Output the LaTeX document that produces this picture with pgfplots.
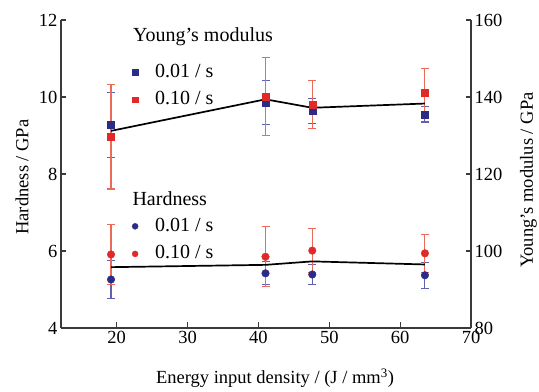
\documentclass[border=0pt]{standalone}
\usepackage{fontspec}
\setmainfont{Liberation Serif}
\usepackage{pgfplots}
\pgfplotsset{compat=1.18}

\definecolor{mblue}{HTML}{2B2C86}
\definecolor{mred}{HTML}{E02A2A}
\definecolor{eblue}{HTML}{6062B0}
\definecolor{ered}{HTML}{EC6A58}
\definecolor{axgray}{HTML}{3A3A3A}

\newcommand{\bigf}{\fontsize{20bp}{23bp}\selectfont}
\newcommand{\tickf}{\fontsize{18.5bp}{21bp}\selectfont}

\pgfplotsset{
  common/.style={
    scale only axis, width=410bp, height=308bp,
    xmin=12.14, xmax=70,
    tick align=inside, major tick length=5.5bp,
    axis line style={axgray, line width=1.2bp},
    tick style={axgray, line width=1.2bp},
    /pgf/number format/assume math mode=true,
    ticklabel style={font=\tickf},
    label style={font=\tickf},
    clip=false,
    legend cell align=left,
    legend image code/.code={\path[draw=none,fill=none] (0bp,0bp) rectangle (21bp,0.01bp); \draw[##1, only marks] plot coordinates {(3bp,0bp)};},
  },
  errb/.style={error bars/.cd, y dir=both, y explicit,
    error bar style={#1, line width=1.1bp},
    error mark options={#1, rotate=90, mark size=4bp, line width=1.1bp}},
  leg/.style={legend style={at={(rel axis cs:0.173,#1)}, anchor=north west,
    draw=none, fill=none, inner sep=0pt, row sep=9.6bp, font=\bigf,
    nodes={text height=14bp, text depth=4bp, inner ysep=0pt, inner xsep=2bp}}},
}

\pgfplotstableread{
x     y     e
19.2  5.26  0.49
41.0  5.42  0.30
47.6  5.39  0.26
63.5  5.37  0.34
}\hblue
\pgfplotstableread{
x     y     e
19.2  5.91  0.78
41.0  5.85  0.78
47.6  6.01  0.58
63.5  5.94  0.49
}\hred
\pgfplotstableread{
x     y
19.2  5.58
41.0  5.64
47.6  5.73
63.5  5.65
}\hmean
\pgfplotstableread{
x     y      e
19.2  132.7  8.4
41.0  138.5  5.7
47.6  136.4  3.2
63.5  135.5  2.0
}\yblue
\pgfplotstableread{
x     y      e
19.2  129.7  13.6
41.0  140.1  10.1
47.6  138.1  6.3
63.5  141.1  6.2
}\yred
\pgfplotstableread{
x     y
19.2  131.2
41.0  139.4
47.6  137.2
63.5  138.3
}\ymean

\begin{document}
\begin{tikzpicture}
\begin{axis}[common, name=main,
  axis y line*=left, axis x line*=bottom,
  ymin=4, ymax=12, ytick={4,6,8,10,12},
  xtick={20,30,40,50,60,70},
  ylabel={Hardness / GPa},
  ylabel style={at={(axis description cs:-0.095,0.49)}, anchor=center},
  xlabel={Energy input density / (J / mm\textsuperscript{3})},
  xlabel style={at={(axis description cs:0.522,0)}, anchor=base, yshift=-56bp},
  leg=0.360,
]
\addplot[forget plot, only marks, mark=*, mblue, mark size=3.8bp, errb=eblue]
  table[x=x, y=y, y error=e] {\hblue};
\addplot[forget plot, only marks, mark=*, mred, mark size=3.8bp, errb=ered]
  table[x=x, y=y, y error=e] {\hred};
\addplot[forget plot, black, line width=1.7bp] table[x=x, y=y] {\hmean};
\addlegendimage{only marks, mark=*, mblue, mark size=3bp}
\addlegendentry{0.01 / s}
\addlegendimage{only marks, mark=*, mred, mark size=3bp}
\addlegendentry{0.10 / s}
\node[anchor=west, inner sep=0pt, font=\bigf] at (rel axis cs:0.174,0.421) {Hardness};
\end{axis}
\begin{axis}[common,
  axis y line*=right, axis x line=none,
  ymin=80, ymax=160, ytick={80,100,120,140,160},
  ylabel={Young’s modulus / GPa},
  ylabel style={at={(axis description cs:1.14,0.48)}, anchor=center},
  leg=0.861,
]
\addplot[forget plot, only marks, mark=square*, mblue, mark size=3.5bp, errb=eblue]
  table[x=x, y=y, y error=e] {\yblue};
\addplot[forget plot, only marks, mark=square*, mred, mark size=3.5bp, errb=ered]
  table[x=x, y=y, y error=e] {\yred};
\addplot[forget plot, black, line width=1.7bp] table[x=x, y=y] {\ymean};
\addlegendimage{only marks, mark=square*, mblue, mark size=2.7bp}
\addlegendentry{0.01 / s}
\addlegendimage{only marks, mark=square*, mred, mark size=2.7bp}
\addlegendentry{0.10 / s}
\node[anchor=west, inner sep=0pt, font=\bigf] at (rel axis cs:0.1756,0.946) {Young’s modulus};
\end{axis}
\pgfresetboundingbox
\path ([shift={(-61bp,-64bp)}]main.south west) rectangle ([shift={(68bp,20bp)}]main.north east);
\end{tikzpicture}
\end{document}
